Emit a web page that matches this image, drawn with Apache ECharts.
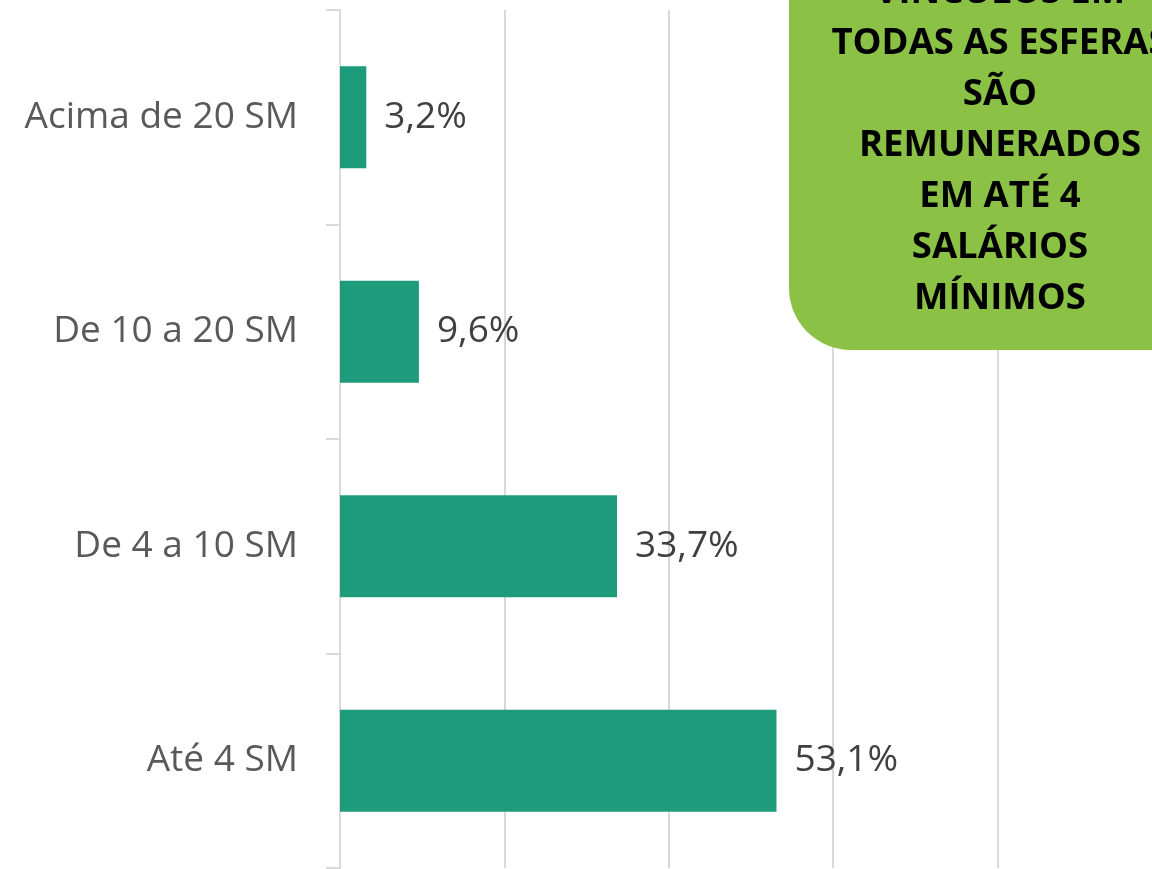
<!DOCTYPE html>
<html>
<head>
<meta charset="utf-8">
<script src="https://cdn.jsdelivr.net/npm/echarts@6/dist/echarts.min.js"></script>
<style>
  html, body { margin: 0; padding: 0; background: #fff; }
  #chart { width: 1152px; height: 869px; }
</style>
</head>
<body>
<div id="chart"></div>
<script>
    // faixas salariais, de baixo para cima
    var categorias = ['Até 4 SM', 'De 4 a 10 SM', 'De 10 a 20 SM', 'Acima de 20 SM'];
    var valores = [53.1, 33.7, 9.6, 3.2];
    var xTicks = [0, 20, 40, 60, 80, 100];
    var destaque = ['VÍNCULOS EM', 'TODAS AS ESFERAS', 'SÃO', 'REMUNERADOS', 'EM ATÉ 4', 'SALÁRIOS', 'MÍNIMOS'];

    var fonte = '"Open Sans", "Noto Sans", sans-serif';
    var myChart = echarts.init(document.getElementById('chart'));

    var option = {
        animation: false,
        grid: {
            left: 340,
            top: 10,
            height: 858,
            width: 822,
            outerBoundsMode: 'none'
        },
        xAxis: {
            type: 'value',
            min: xTicks[0],
            max: xTicks[xTicks.length - 1],
            interval: xTicks[1] - xTicks[0],
            axisLine: {show: false},
            axisTick: {show: false},
            axisLabel: {show: false},
            splitLine: {
                lineStyle: {color: '#d9d9d9', width: 2}
            }
        },
        yAxis: {
            type: 'category',
            data: categorias,
            axisLine: {show: true, lineStyle: {color: '#d9d9d9', width: 2}},
            axisTick: {show: true, length: 14, lineStyle: {color: '#d9d9d9', width: 2}},
            axisLabel: {
                margin: 42,
                color: '#595959',
                fontSize: 37,
                fontFamily: fonte,
                padding: [6, 0, 0, 0]
            }
        },
        series: [{
            type: 'bar',
            data: valores,
            barWidth: '47.5%',
            itemStyle: {color: '#1e9b7a'},
            label: {
                show: true,
                position: 'right',
                distance: 18,
                color: '#404040',
                fontSize: 37,
                fontFamily: fonte,
                padding: [6, 0, 0, 0],
                formatter: function (p) {
                    return p.value.toFixed(1).replace('.', ',') + '%';
                }
            }
        }],
        graphic: [{
            type: 'group',
            z: 100,
            children: [{
                type: 'rect',
                z: 100,
                shape: {x: 789, y: -200, width: 500, height: 550, r: [0, 0, 0, 62]},
                style: {fill: '#8bc145'}
            }, {
                type: 'text',
                z: 101,
                x: 1000,
                y: -33,
                style: {
                    text: destaque.join('\n'),
                    fill: '#000',
                    font: 'bold 36.5px ' + fonte,
                    lineHeight: 51,
                    align: 'center',
                    verticalAlign: 'top'
                }
            }]
        }]
    };

    myChart.setOption(option);
</script>
</body>
</html>
